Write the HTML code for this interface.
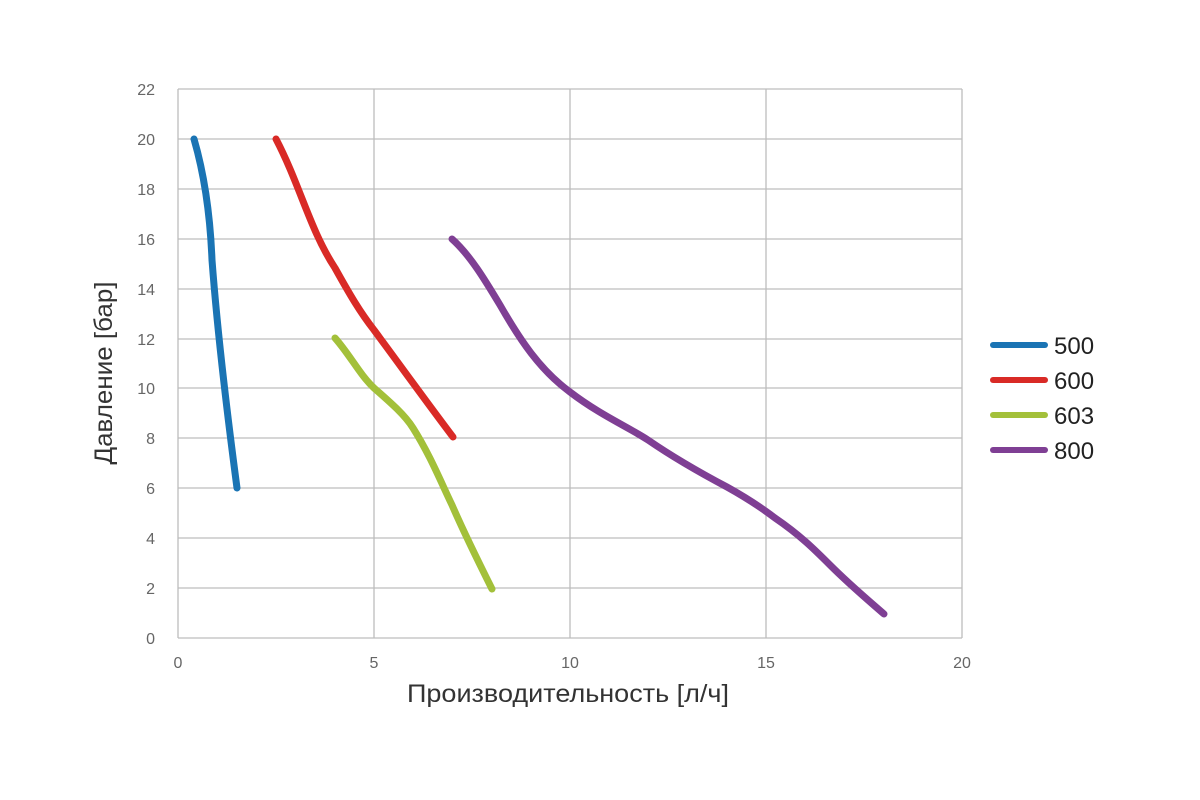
<!DOCTYPE html>
<html><head><meta charset="utf-8"><style>
body{margin:0;background:#fff;}
svg{display:block;font-family:"Liberation Sans",sans-serif;}
</style></head><body>
<svg width="1200" height="800" viewBox="0 0 1200 800">
<g stroke="#bdbdbd" stroke-width="1.3">
<line x1="178" y1="89" x2="962" y2="89"/><line x1="178" y1="139" x2="962" y2="139"/><line x1="178" y1="189" x2="962" y2="189"/><line x1="178" y1="239" x2="962" y2="239"/><line x1="178" y1="289" x2="962" y2="289"/><line x1="178" y1="339" x2="962" y2="339"/><line x1="178" y1="388" x2="962" y2="388"/><line x1="178" y1="438" x2="962" y2="438"/><line x1="178" y1="488" x2="962" y2="488"/><line x1="178" y1="538" x2="962" y2="538"/><line x1="178" y1="588" x2="962" y2="588"/><line x1="178" y1="638" x2="962" y2="638"/>
<line x1="178" y1="89" x2="178" y2="638"/><line x1="374" y1="89" x2="374" y2="638"/><line x1="570" y1="89" x2="570" y2="638"/><line x1="766" y1="89" x2="766" y2="638"/><line x1="962" y1="89" x2="962" y2="638"/>
</g>
<g fill="#666" font-size="16" text-anchor="end">
<text x="155" y="95">22</text><text x="155" y="145">20</text><text x="155" y="195">18</text><text x="155" y="245">16</text><text x="155" y="295">14</text><text x="155" y="345">12</text><text x="155" y="394">10</text><text x="155" y="444">8</text><text x="155" y="494">6</text><text x="155" y="544">4</text><text x="155" y="594">2</text><text x="155" y="644">0</text>
</g>
<g fill="#666" font-size="16" text-anchor="middle">
<text x="178" y="668">0</text><text x="374" y="668">5</text><text x="570" y="668">10</text><text x="766" y="668">15</text><text x="962" y="668">20</text>
</g>
<text x="568" y="702" font-size="25" fill="#333" text-anchor="middle" textLength="322" lengthAdjust="spacingAndGlyphs">Производительность [л/ч]</text>
<text transform="translate(112,373) rotate(-90)" font-size="25" fill="#333" text-anchor="middle" textLength="183" lengthAdjust="spacingAndGlyphs">Давление [бар]</text>
<g fill="none" stroke-width="7" stroke-linecap="round" stroke-linejoin="round">
<path stroke="#1a74b4" d="M194,139 C203,170 210,210 212,260 C218,340 228,420 237,488"/>
<path stroke="#d92a26" d="M276,139 C300,185 310,230 335,268 C350,295 360,312 374,330 C400,365 425,400 453,437"/>
<path stroke="#a3c03a" d="M335,338 C350,355 360,375 374,388 C390,402 405,415 413,428 C430,455 440,480 452,505 C465,535 480,565 492,589"/>
<path stroke="#7f3f94" d="M452,239 C470,255 485,280 500,305 C520,340 540,370 570,392 C600,415 630,428 648,440 C680,462 710,478 727,487 C745,497 758,505 775,518 C800,535 815,550 830,565 C850,585 868,600 884,614"/>
</g>
<g stroke-width="6" stroke-linecap="round">
<line x1="993" y1="345" x2="1045" y2="345" stroke="#1a74b4"/>
<line x1="993" y1="380" x2="1045" y2="380" stroke="#d92a26"/>
<line x1="993" y1="415" x2="1045" y2="415" stroke="#a3c03a"/>
<line x1="993" y1="450" x2="1045" y2="450" stroke="#7f3f94"/>
</g>
<g font-size="24" fill="#222">
<text x="1054" y="354">500</text><text x="1054" y="389">600</text><text x="1054" y="424">603</text><text x="1054" y="459">800</text>
</g>
</svg>
</body></html>
